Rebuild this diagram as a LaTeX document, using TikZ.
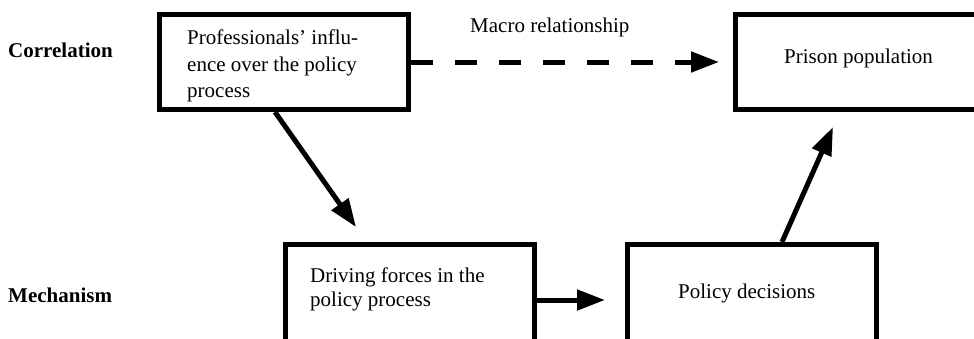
\documentclass[tikz,border=0pt]{standalone}
\usepackage{fontspec}
\setmainfont{Liberation Serif}
\usetikzlibrary{arrows.meta}
\begin{document}
\begin{tikzpicture}[x=1pt,y=-1pt,
  box/.style={draw=black,line width=5pt,inner sep=0pt,minimum width=249pt,minimum height=95pt},
  lowbox/.style={box,minimum height=111pt},
  txt/.style={anchor=base west,inner sep=0pt,align=left,font=\fontsize{21}{26.5}\selectfont},
  lbl/.style={anchor=base west,inner sep=0pt,font=\fontsize{21}{25}\selectfont\bfseries},
  arr/.style={line width=5pt,-{Triangle[length=28pt,width=20pt]}},
  dasharr/.style={arr,dash pattern=on 22pt off 22pt}]
\useasboundingbox (0,0) rectangle (974,338);
\clip (0,0) rectangle (974,338);
% boxes
\node[box] (prof) at (284,62) {};
\node[box] (prison) at (860,62) {};
\node[lowbox] (drive) at (409.5,300) {};
\node[lowbox] (policy) at (752,300) {};
% texts (base anchor = baseline of the last line)
\node[txt] (proftxt) at (187,97.5) {Professionals’ influ-\\ence over the policy\\process};
\node[txt] (prisontxt) at (784,63) {Prison population};
\node[txt,font=\fontsize{21}{23.5}\selectfont] (drivetxt) at (310,306) {Driving forces in the\\policy process};
\node[txt] (policytxt) at (678,298) {Policy decisions};
\node[txt] (macro) at (470,32) {Macro relationship};
\node[lbl] (corr) at (8,57) {Correlation};
\node[lbl] (mech) at (8,302) {Mechanism};
% connectors
\draw[dasharr] (prof.east) -- ([xshift=-14pt]prison.west);
\draw[arr] ([xshift=-9pt]prof.south) -- ([xshift=-53.5pt,yshift=15pt]drive.north);
\draw[arr] (drive.east) -- ([xshift=-20pt]policy.west);
\draw[arr] ([xshift=30pt]policy.north) -- ([xshift=-27pt,yshift=-15pt]prison.south);
\end{tikzpicture}
\end{document}
